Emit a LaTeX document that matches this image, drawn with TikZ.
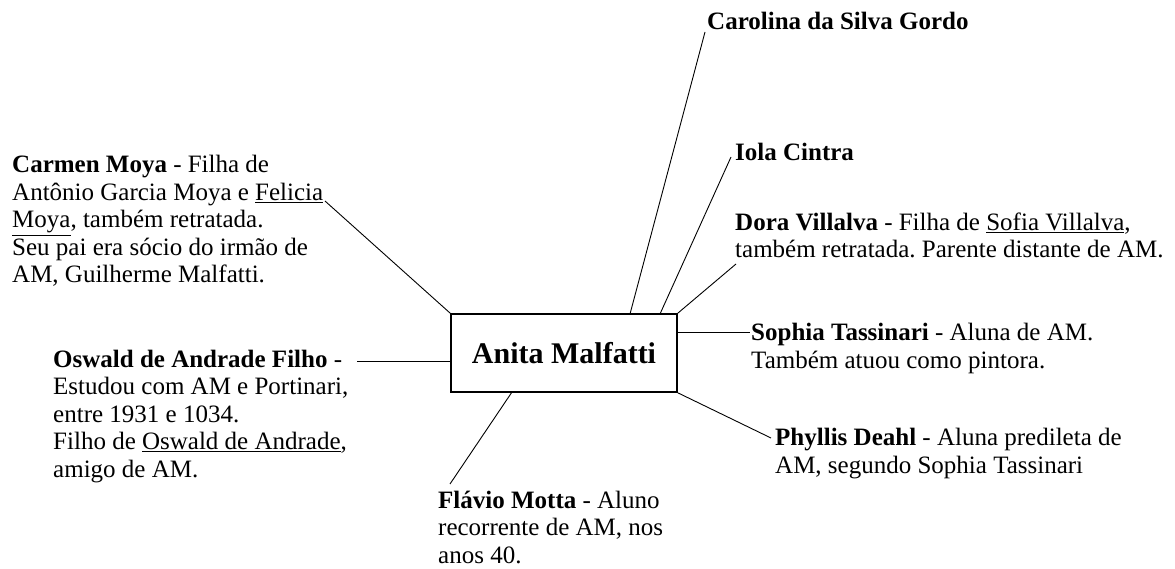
\documentclass[tikz,border=0pt]{standalone}
\usepackage{fontspec}
\setmainfont{Liberation Serif}
\frenchspacing
\begin{document}
\begin{tikzpicture}[x=1pt,y=-1pt,
  desc/.style={anchor=base west,inner sep=0pt,align=left,font=\fontsize{25}{27.5}\selectfont},
  link/.style={draw=black,line width=0.9pt},
  centre/.style={draw=black,line width=1.6pt,minimum width=226pt,minimum height=78pt,inner sep=0pt,font=\fontsize{30}{34}\selectfont\bfseries}]
\useasboundingbox (0,0) rectangle (1175,569);
\node[centre] (am) at (564,353) {Anita Malfatti};
% anchors are at the baseline of the last line of each text
\node[desc] (car) at (707,30) {\textbf{Carolina da Silva Gordo}};
\node[desc] (iola) at (735,161) {\textbf{Iola Cintra}};
\node[desc] (dora) at (735,258) {\textbf{Dora Villalva} - Filha de \underline{Sofia Villalva},\\também retratada. Parente distante de AM.};
\node[desc] (soph) at (751,368) {\textbf{Sophia Tassinari} - Aluna de AM.\\Também atuou como pintora.};
\node[desc] (phy) at (775,473) {\textbf{Phyllis Deahl} - Aluna predileta de\\AM, segundo Sophia Tassinari};
\node[desc] (fla) at (438,563) {\textbf{Flávio Motta} - Aluno\\recorrente de AM, nos\\anos 40.};
\node[desc] (carm) at (12,283) {\textbf{Carmen Moya} - Filha de\\Antônio Garcia Moya e \underline{Felicia}\\\underline{Moya}, também retratada.\\Seu pai era sócio do irmão de\\AM, Guilherme Malfatti.};
\node[desc] (osw) at (53,477) {\textbf{Oswald de Andrade Filho} -\\Estudou com AM e Portinari,\\entre 1931 e 1034.\\Filho de \underline{Oswald de Andrade},\\amigo de AM.};
% connector ends
\coordinate (carE) at (705,32);
\coordinate (iolaE) at (731,157);
\coordinate (doraE) at (736,264);
\coordinate (sophE) at (750,332);
\coordinate (phyE) at (771,438);
\coordinate (flaE) at (450,484);
\coordinate (carmE) at (325,201);
\coordinate (oswE) at (357,361);
\coordinate (amCar) at (630,314);
\coordinate (amIola) at (660,314);
\coordinate (amSoph) at (677,332);
\coordinate (amFla) at (512,392);
\coordinate (amOsw) at (451,361);
\draw[link] (am.north west) -- (carmE);
\draw[link] (amOsw) -- (oswE);
\draw[link] (amFla) -- (flaE);
\draw[link] (amCar) -- (carE);
\draw[link] (amIola) -- (iolaE);
\draw[link] (am.north east) -- (doraE);
\draw[link] (amSoph) -- (sophE);
\draw[link] (am.south east) -- (phyE);
\end{tikzpicture}
\end{document}
